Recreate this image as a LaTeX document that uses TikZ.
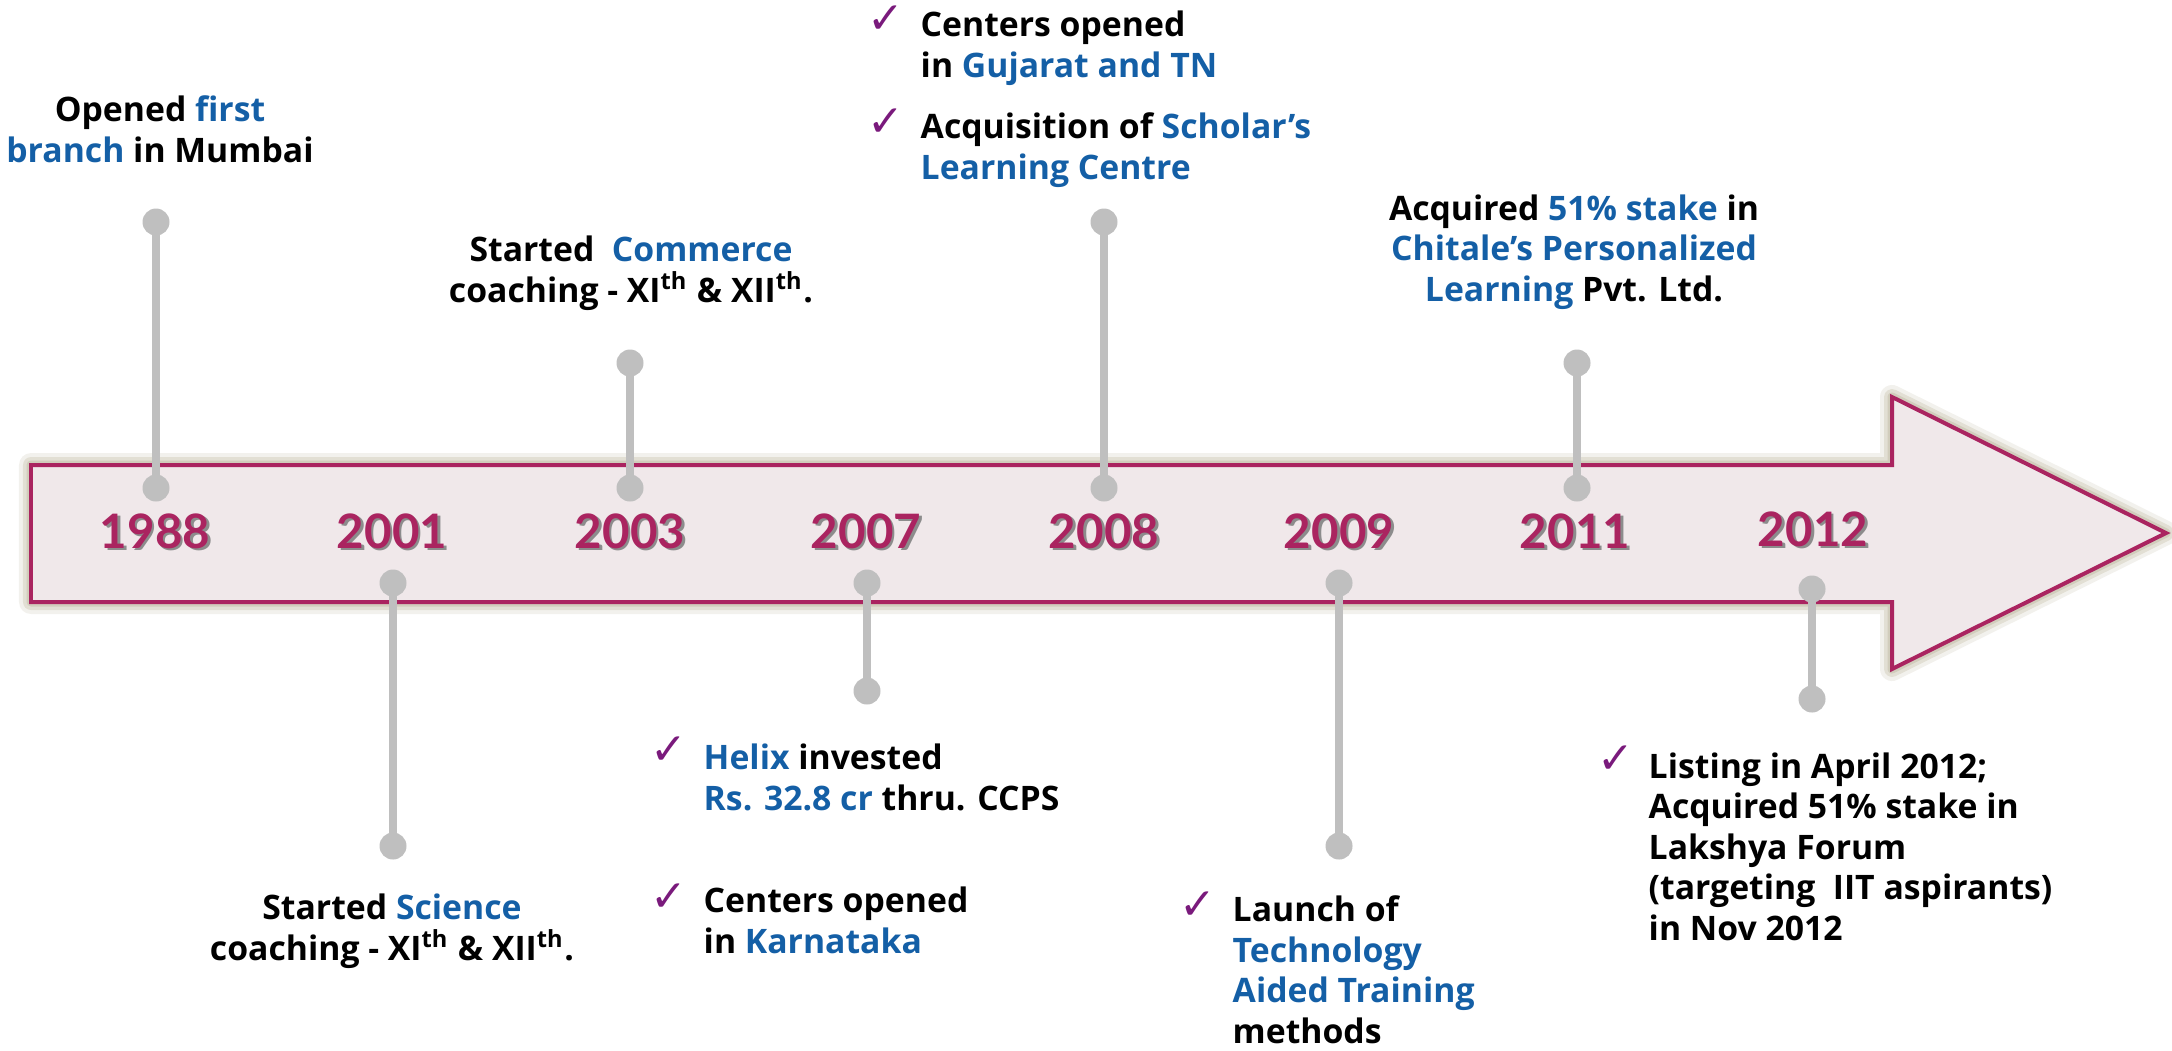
\documentclass[tikz,border=0pt]{standalone}
\usepackage{fontspec}
\setmainfont{Open Sans}
\newfontfamily\yearfont{Lato}
\newfontfamily\symfont{DejaVu Sans}

\definecolor{crimson}{RGB}{170,36,96}
\definecolor{barfill}{RGB}{240,232,234}
\definecolor{halo}{RGB}{205,200,182}
\definecolor{stemgray}{RGB}{191,191,191}
\definecolor{hiblue}{RGB}{20,95,166}
\definecolor{tickpurple}{RGB}{122,26,124}

\newcommand{\blu}[1]{\textcolor{hiblue}{#1}}
\newcommand{\thsup}{\textsuperscript{th}}
\newcommand{\timelinearrow}{(0.31,4.65) -- (18.92,4.65) -- (18.92,3.97) -- (21.66,5.33) -- (18.92,6.69) -- (18.92,6.02) -- (0.31,6.02) -- cycle}

\begin{document}
\begin{tikzpicture}[y=-1cm,
  year/.style={font=\yearfont\fontsize{13.5}{13.5}\selectfont\bfseries, text=crimson, inner sep=0},
  yearshadow/.style={font=\yearfont\fontsize{13.5}{13.5}\selectfont\bfseries, text=black!45, inner sep=0},
  notetext/.style={font=\fontsize{9.6}{11.5}\selectfont\bfseries, inner sep=0},
  checkmark/.style={font=\symfont\fontsize{12.5}{12.5}\selectfont, text=tickpurple, inner sep=0},
  stemline/.style={draw=stemgray, line width=0.08cm},
  stemdot/.style={circle, fill=stemgray, minimum size=0.27cm, inner sep=0}]

\useasboundingbox (0,0) rectangle (21.72,10.50);

% Arrow with soft halo
\draw[halo, opacity=0.25, line width=0.24cm, line join=round] \timelinearrow;
\draw[halo, opacity=0.45, line width=0.16cm, line join=round] \timelinearrow;
\draw[halo, opacity=0.8, line width=0.09cm, line join=round] \timelinearrow;
\draw[crimson, fill=barfill, line width=0.04cm] \timelinearrow;

% Stems
\node[stemdot] (a1988) at (1.56,4.88) {};
\node[stemdot] (b1988) at (1.56,2.22) {};
\node[stemdot] (a2001) at (3.93,5.83) {};
\node[stemdot] (b2001) at (3.93,8.46) {};
\node[stemdot] (a2003) at (6.30,4.88) {};
\node[stemdot] (b2003) at (6.30,3.63) {};
\node[stemdot] (a2007) at (8.67,5.83) {};
\node[stemdot] (b2007) at (8.67,6.91) {};
\node[stemdot] (a2008) at (11.04,4.88) {};
\node[stemdot] (b2008) at (11.04,2.22) {};
\node[stemdot] (a2009) at (13.39,5.83) {};
\node[stemdot] (b2009) at (13.39,8.46) {};
\node[stemdot] (a2011) at (15.77,4.88) {};
\node[stemdot] (b2011) at (15.77,3.63) {};
\node[stemdot] (a2012) at (18.12,5.89) {};
\node[stemdot] (b2012) at (18.12,6.99) {};
\draw[stemline] (a1988.center) -- (b1988.center);
\draw[stemline] (a2001.center) -- (b2001.center);
\draw[stemline] (a2003.center) -- (b2003.center);
\draw[stemline] (a2007.center) -- (b2007.center);
\draw[stemline] (a2008.center) -- (b2008.center);
\draw[stemline] (a2009.center) -- (b2009.center);
\draw[stemline] (a2011.center) -- (b2011.center);
\draw[stemline] (a2012.center) -- (b2012.center);

% Years
\node[yearshadow] at (1.575,5.335) {1988};
\node[year] (y1988) at (1.55,5.31) {1988};
\node[yearshadow] at (3.945,5.335) {2001};
\node[year] (y2001) at (3.92,5.31) {2001};
\node[yearshadow] at (6.325,5.335) {2003};
\node[year] (y2003) at (6.30,5.31) {2003};
\node[yearshadow] at (8.685,5.335) {2007};
\node[year] (y2007) at (8.66,5.31) {2007};
\node[yearshadow] at (11.065,5.335) {2008};
\node[year] (y2008) at (11.04,5.31) {2008};
\node[yearshadow] at (13.415,5.335) {2009};
\node[year] (y2009) at (13.39,5.31) {2009};
\node[yearshadow] at (15.775,5.335) {2011};
\node[year] (y2011) at (15.75,5.31) {2011};
\node[yearshadow] at (18.155,5.315) {2012};
\node[year] (y2012) at (18.13,5.29) {2012};

% Labels above the arrow (anchored on their last line)
\node[notetext, align=center, anchor=base] (t1988) at (1.60,1.62)
  {Opened \blu{first}\\\blu{branch} in Mumbai};
\node[notetext, align=center, anchor=base] (t2003) at (6.31,3.02)
  {Started \ \blu{Commerce}\\coaching - XI\thsup{} \& XII\thsup.};
\node[checkmark, anchor=base west] (c2008a) at (8.67,0.33) {✓};
\node[notetext, align=left, anchor=base west] (t2008a) at (9.20,0.77)
  {Centers opened\\in \blu{Gujarat and TN}};
\node[checkmark, anchor=base west] (c2008b) at (8.67,1.36) {✓};
\node[notetext, align=left, anchor=base west] (t2008b) at (9.20,1.79)
  {Acquisition of \blu{Scholar’s}\\\blu{Learning Centre}};
\node[notetext, align=center, anchor=base] (t2011) at (15.74,3.01)
  {Acquired \blu{51\% stake} in\\\blu{Chitale's Personalized}\\\blu{Learning} Pvt. Ltd.};

% Labels below the arrow
\node[notetext, align=center, anchor=base] (t2001) at (3.92,9.60)
  {Started \blu{Science}\\coaching - XI\thsup{} \& XII\thsup.};
\node[checkmark, anchor=base west] (c2007a) at (6.50,7.64) {✓};
\node[notetext, align=left, anchor=base west] (t2007a) at (7.03,8.10)
  {\blu{Helix} invested\\\blu{Rs. 32.8 cr} thru. CCPS};
\node[checkmark, anchor=base west] (c2007b) at (6.50,9.11) {✓};
\node[notetext, align=left, anchor=base west] (t2007b) at (7.03,9.53)
  {Centers opened\\in \blu{Karnataka}};
\node[checkmark, anchor=base west] (c2009) at (11.79,9.19) {✓};
\node[notetext, align=left, anchor=base west] (t2009) at (12.32,10.43)
  {Launch of\\\blu{Technology}\\\blu{Aided Training}\\methods};
\node[checkmark, anchor=base west] (c2012) at (15.97,7.73) {✓};
\node[notetext, align=left, anchor=base west] (t2012) at (16.48,9.40)
  {Listing in April 2012;\\Acquired 51\% stake in\\Lakshya Forum\\(targeting \ IIT aspirants)\\in Nov 2012};

\end{tikzpicture}
\end{document}
